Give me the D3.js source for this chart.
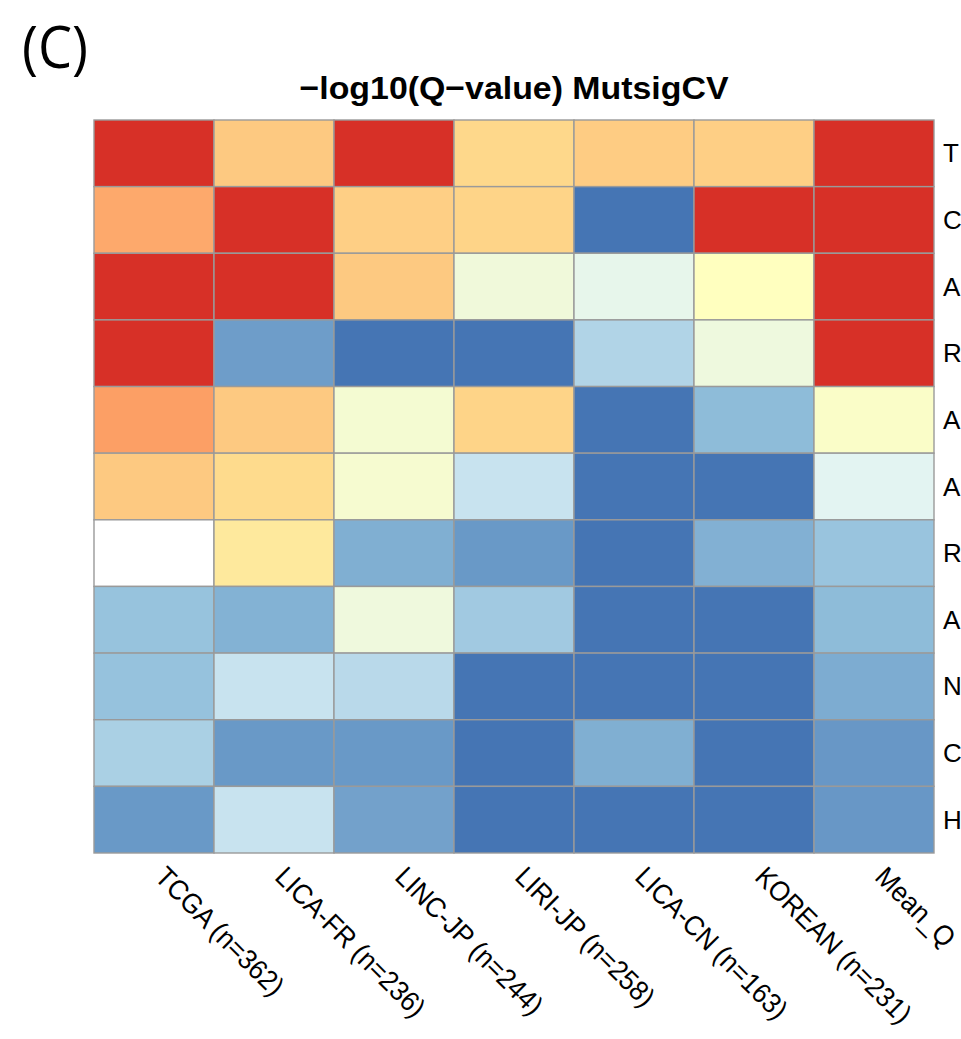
<!DOCTYPE html>
<html>
<head>
<meta charset="utf-8">
<script src="https://cdn.jsdelivr.net/npm/d3@7"></script>
<style>
  html, body { margin: 0; padding: 0; background: #ffffff; }
  svg { display: block; }
  text { font-family: "Liberation Sans", Arial, Helvetica, sans-serif; fill: #000; }
</style>
</head>
<body>
<svg id="chart" width="961" height="1039"></svg>
<script>
// Cohorts (columns) and genes (rows)
const cohorts = ["TCGA (n=362)", "LICA-FR (n=236)", "LINC-JP (n=244)", "LIRI-JP (n=258)",
                 "LICA-CN (n=163)", "KOREAN (n=231)", "Mean_Q"];
const genes = ["T", "C", "A", "R", "A", "A", "R", "A", "N", "C", "H"];

// -log10(Q-value) per gene, one array per cohort column (capped at 3); null = missing
const tcga    = [3.00, 2.33, 3.00, 3.00, 2.39, 2.14, null, 0.54, 0.53, 0.66, 0.24];
const licaFr  = [2.14, 3.00, 3.00, 0.27, 2.14, 2.03, 1.86, 0.41, 0.85, 0.24, 0.85];
const lincJp  = [3.00, 2.10, 2.14, 0.00, 1.33, 1.35, 0.39, 1.24, 0.75, 0.24, 0.30];
const liriJp  = [2.05, 2.07, 1.26, 0.00, 2.07, 0.85, 0.24, 0.60, 0.00, 0.00, 0.00];
const licaCn  = [2.12, 0.00, 1.11, 0.70, 0.00, 0.00, 0.00, 0.00, 0.00, 0.39, 0.00];
const korean  = [2.10, 3.00, 1.50, 1.23, 0.48, 0.00, 0.40, 0.00, 0.00, 0.00, 0.00];
const meanQ   = [3.00, 3.00, 3.00, 3.00, 1.42, 1.05, 0.55, 0.48, 0.37, 0.23, 0.23];
const columns = [tcga, licaFr, lincJp, liriJp, licaCn, korean, meanQ];

// Colour range: reversed RdYlBu (7 classes)
const palette = ["#4575B4", "#91BFDB", "#E0F3F8", "#FFFFBF", "#FEE090", "#FC8D59", "#D73027"];
const valueMin = 0, valueMax = 3;

const svg = d3.select("#chart");

const grid = { left: 94, right: 934, top: 120, bottom: 853 };

const x = d3.scaleBand().domain(d3.range(cohorts.length)).range([grid.left, grid.right]);
const y = d3.scaleBand().domain(d3.range(genes.length)).range([grid.top, grid.bottom]);

const color = d3.scaleLinear()
  .domain(d3.range(palette.length).map(i => valueMin + (valueMax - valueMin) * i / (palette.length - 1)))
  .range(palette)
  .interpolate(d3.interpolateRgb)
  .clamp(true);

const cells = [];
columns.forEach((col, c) => col.forEach((v, r) => cells.push({ c, r, v })));

svg.append("g")
  .selectAll("rect")
  .data(cells)
  .join("rect")
  .attr("x", d => x(d.c))
  .attr("y", d => y(d.r))
  .attr("width", x.bandwidth())
  .attr("height", y.bandwidth())
  .attr("fill", d => d.v == null ? "#ffffff" : color(d.v))
  .attr("stroke", "#9a9a9a")
  .attr("stroke-width", 1.4);

// Row labels on the right
svg.append("g")
  .selectAll("text")
  .data(genes)
  .join("text")
  .attr("x", grid.right + 9)
  .attr("y", (d, i) => y(i) + y.bandwidth() / 2)
  .attr("dominant-baseline", "central")
  .style("font-size", "26px")
  .text(d => d);

// Column labels, rotated 45 degrees (slightly condensed along the text line)
svg.append("g")
  .selectAll("text")
  .data(cohorts)
  .join("text")
  .attr("transform", (d, i) => `translate(${x(i) + x.bandwidth() / 2 + 6},${grid.bottom + 19}) rotate(45) scale(0.93,1)`)
  .attr("dominant-baseline", "central")
  .style("font-size", "28px")
  .text(d => d);

// Title
svg.append("text")
  .attr("x", (grid.left + grid.right) / 2)
  .attr("y", 99)
  .attr("text-anchor", "middle")
  .attr("textLength", 429)
  .attr("lengthAdjust", "spacingAndGlyphs")
  .style("font-size", "32px")
  .style("font-weight", "bold")
  .text("\u2212log10(Q\u2212value) MutsigCV");

// Panel tag
svg.append("text")
  .attr("x", 22)
  .attr("y", 68)
  .attr("textLength", 66)
  .attr("lengthAdjust", "spacingAndGlyphs")
  .style("font-family", "'Open Sans', 'Noto Sans', sans-serif")
  .style("font-size", "58px")
  .text("(C)");
</script>
</body>
</html>
